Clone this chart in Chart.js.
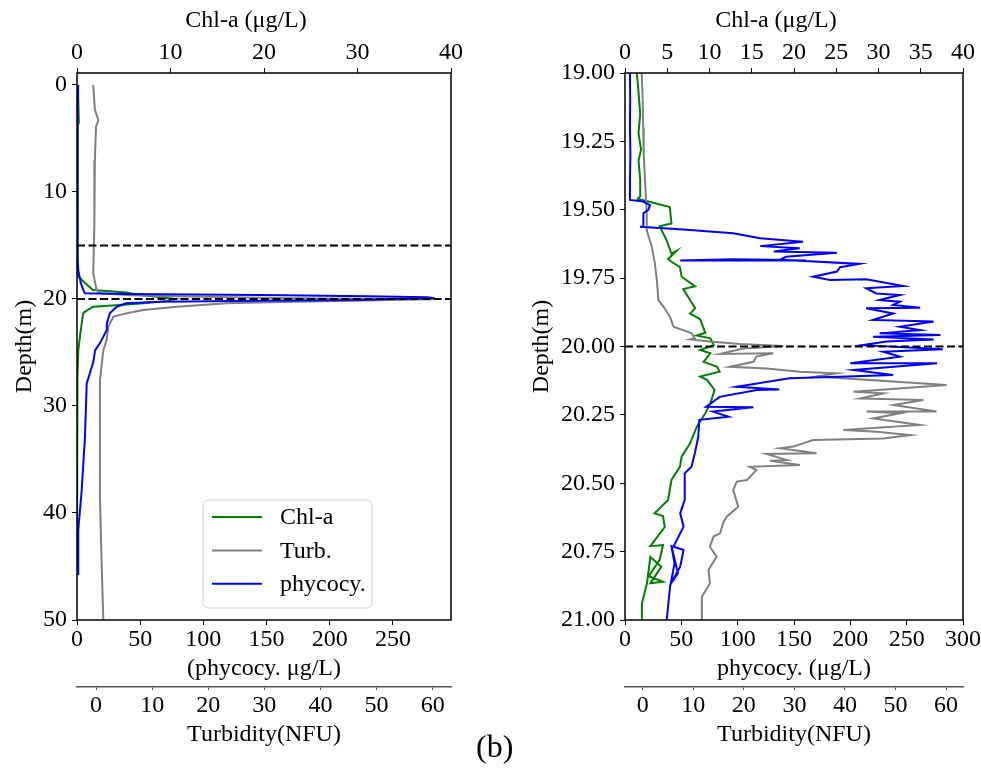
<!DOCTYPE html>
<html>
<head>
<meta charset="utf-8">
<script src="https://cdn.jsdelivr.net/npm/chart.js@4.4.1/dist/chart.umd.min.js"></script>
<style>
  html, body { margin: 0; padding: 0; background: #fff; }
  body { width: 981px; height: 773px; position: relative; overflow: hidden; }
  #left { position: absolute; left: 0; top: 0; }
  #right { position: absolute; left: 490px; top: 0; }
  #panel { position: absolute; left: 476px; top: 730px; font: 32px/32px "Liberation Serif", "Times New Roman", serif; color: #000; }
</style>
</head>
<body>
<canvas id="left" width="490" height="773"></canvas>
<canvas id="right" width="491" height="773"></canvas>
<div id="panel">(b)</div>
<script>
// ---- left panel: whole profile 0-50 m ----
const lChlDepth = [0, 3.5, 3.8, 5, 10, 17, 17.9, 18.5, 19.16, 19.4, 19.6, 19.8, 20.0, 20.2, 20.4, 20.56, 20.72, 21.3, 22.3, 23.5, 24.8, 27, 35, 45];
const lChlVal   = [0.1, 0.2, 0.05, 0.05, 0.05, 0.1, 0.14, 0.86, 1.7, 5.3, 6.5, 8.5, 10.5, 9.5, 7.1, 4.6, 1.7, 0.67, 0.5, 0.32, 0.14, 0.05, 0.0, 0.0];

const lTurbDepth = [0, 2.3, 3.3, 3.9, 7, 13.2, 17.6, 19.16, 19.47, 19.63, 19.72, 19.93, 20.03, 20.25, 20.4, 20.72, 21.03, 21.34, 21.65, 22.6, 23.8, 24.8, 27.6, 32.2, 38.5, 44.7, 50];
const lTurbVal   = [-0.5, -0.2, 0.4, 0.0, -0.2, -0.3, -0.5, 0.1, 0.7, 5.5, 11.4, 35.1, 60, 35.1, 23.3, 14.4, 8.4, 5.5, 3.1, 2.2, 1.9, 1.3, 0.7, 0.7, 0.7, 1.0, 1.3];

const lPhyDepth = [0, 2, 10, 16, 17.3, 18.5, 19.16, 19.47, 19.53, 19.63, 19.75, 19.84, 19.93, 20.0, 20.09, 20.16, 20.25, 20.4, 20.72, 21.34, 22.3, 22.9, 24.1, 24.8, 25.9, 26.9, 27.9, 32.9, 37.9, 41.6, 45.8];
const lPhyVal   = [1.0, 0.5, 0.3, 0.5, 1.0, 3, 5, 6.3, 39, 145, 230, 277, 283, 250, 225, 145, 66, 39, 31.5, 26, 23.6, 23.6, 18.3, 14.3, 12.9, 10.3, 7.7, 6.3, 3.7, 1.0, 1.0];

const lRefDepths = [15, 20];

// ---- right panel: zoom 19-21 m ----
const rChlDepth = [19.00, 19.07, 19.15, 19.22, 19.28, 19.32, 19.39, 19.45, 19.46, 19.49, 19.55, 19.56, 19.61, 19.66, 19.65, 19.68, 19.69, 19.71, 19.745, 19.78, 19.79, 19.83, 19.86, 19.88, 19.90, 19.95, 19.96, 19.97, 19.995, 20.013, 20.025, 20.056, 20.074, 20.092, 20.11, 20.122, 20.159, 20.208, 20.244, 20.293, 20.354, 20.403, 20.44, 20.488, 20.561, 20.61, 20.62, 20.66, 20.73, 20.726, 20.78, 20.84, 20.86, 20.866, 20.805, 20.77, 20.866, 20.94, 21.0];
const rChlVal   = [1.4, 1.6, 1.8, 1.6, 1.9, 1.6, 1.8, 1.8, 1.5, 5.3, 5.5, 4.1, 4.9, 5.5, 6.1, 5.1, 5.5, 6.5, 6.7, 8.3, 6.9, 7.7, 8.3, 7.7, 8.9, 9.5, 8.5, 10.1, 10.5, 8.9, 10.1, 9.3, 10.9, 11.2, 8.9, 9.7, 10.6, 10.1, 9.5, 8.5, 7.7, 6.7, 6.5, 5.5, 5.1, 3.5, 4.5, 4.7, 3.0, 4.5, 4.1, 2.8, 4.5, 3.0, 4.3, 3.0, 2.6, 2.0, 2.0];

const rTurbDepth = [19.00, 19.10, 19.20, 19.30, 19.391, 19.513, 19.574, 19.611, 19.635, 19.696, 19.757, 19.83, 19.854, 19.891, 19.928, 19.952, 19.97, 19.974, 19.982, 19.991, 19.998, 20.007, 20.027, 20.025, 20.037, 20.056, 20.074, 20.08, 20.092, 20.098, 20.11, 20.141, 20.165, 20.171, 20.19, 20.196, 20.214, 20.238, 20.238, 20.244, 20.263, 20.287, 20.305, 20.312, 20.324, 20.336, 20.342, 20.366, 20.372, 20.39, 20.393, 20.415, 20.418, 20.433, 20.44, 20.452, 20.488, 20.494, 20.525, 20.586, 20.622, 20.646, 20.683, 20.695, 20.732, 20.769, 20.817, 20.866, 20.915, 21.0];
const rTurbVal   = [-0.2, 0.0, 0.1, 0.2, 0.45, 0.8, 0.8, 1.4, 1.8, 2.4, 2.8, 3.1, 4.1, 5.4, 6.1, 9.7, 10.3, 9.4, 13.3, 19.2, 27.8, 19.9, 15.3, 25.8, 22.5, 21.9, 17.3, 24.5, 31.1, 38.4, 34.4, 60.1, 41.7, 47.6, 43, 55.5, 49.6, 58.1, 44.3, 50.9, 45.6, 54.8, 39.7, 46.3, 52.9, 47.6, 33.7, 29.8, 27.2, 34.4, 24.5, 28.5, 25.2, 31.1, 21.2, 22.5, 20.6, 18.6, 17.9, 18.9, 16.6, 15.9, 15.3, 14.0, 13.3, 14.6, 13.0, 13.3, 11.7, 11.7];

const rPhyDepth = [19.00, 19.10, 19.20, 19.30, 19.39, 19.464, 19.47, 19.483, 19.50, 19.513, 19.562, 19.562, 19.572, 19.586, 19.604, 19.617, 19.633, 19.641, 19.653, 19.657, 19.672, 19.684, 19.686, 19.686, 19.681, 19.684, 19.698, 19.71, 19.726, 19.745, 19.757, 19.754, 19.779, 19.787, 19.806, 19.812, 19.83, 19.836, 19.848, 19.858, 19.86, 19.879, 19.903, 19.909, 19.928, 19.94, 19.952, 19.958, 19.964, 19.974, 19.982, 19.995, 20.01, 20.019, 20.037, 20.061, 20.061, 20.086, 20.104, 20.11, 20.116, 20.147, 20.157, 20.159, 20.184, 20.22, 20.222, 20.238, 20.257, 20.268, 20.33, 20.39, 20.44, 20.464, 20.561, 20.61, 20.659, 20.732, 20.744, 20.805, 20.872, 20.829, 20.726, 20.793, 20.878, 21.0];
const rPhyVal   = [4.4, 4.6, 4.4, 4.8, 4.4, 4.4, 16.3, 22.2, 20.7, 16.3, 16.3, 13.3, 51.8, 96, 120, 158, 120, 155, 132, 188, 143, 137, 161, 49, 96, 143, 208, 191, 188, 167, 182, 214, 247, 214, 223, 244, 226, 244, 238, 262, 214, 238, 220, 274, 244, 262, 226, 280, 220, 274, 232, 211, 282, 229, 244, 200, 277, 203, 238, 197, 146, 99, 137, 117, 84, 72, 114, 78, 92, 66, 65, 62, 59, 53, 53, 49, 52, 43, 52, 49, 40, 47, 41, 44, 40, 37];

const rRefDepths = [20];

// axis ranges and tick labels
const lDepthRange = [-1.12, 50];
const lDepthTicks = [0, 10, 20, 30, 40, 50];
const lChlRange = [0, 40];
const lChlTicks = [0, 10, 20, 30, 40];
const lPhyRange = [0, 296];
const lPhyTicks = [0, 50, 100, 150, 200, 250];
const lTurbRange = [-3.39, 63.27];
const turbTicks = [0, 10, 20, 30, 40, 50, 60];

const rDepthRange = [19, 21];
const rDepthTicks = [19, 19.25, 19.5, 19.75, 20, 20.25, 20.5, 20.75, 21];
const rChlRange = [0, 40];
const rChlTicks = [0, 5, 10, 15, 20, 25, 30, 35, 40];
const rPhyRange = [0, 300];
const rPhyTicks = [0, 50, 100, 150, 200, 250, 300];
const rTurbRange = [-3.5, 63.35];

const serif = "'Liberation Serif', 'Times New Roman', serif";
const ink = "#000";
const font = { family: serif, size: 24 };

function pts(depths, vals) {
  return depths.map((d, i) => ({ x: vals[i], y: d }));
}

function hline(depth, range) {
  return [{ x: range[0], y: depth }, { x: range[1], y: depth }];
}

function xScale(o) {
  return {
    type: "linear",
    position: o.position,
    weight: o.weight,
    bounds: "data",
    min: o.range[0],
    max: o.range[1],
    afterBuildTicks: s => { s.ticks = o.ticks.map(v => ({ value: v })); },
    ticks: { color: ink, font, padding: o.tickPad, maxRotation: 0, autoSkip: false, callback: v => String(v) },
    grid: { drawOnChartArea: false, tickLength: o.tickLen, color: o.tickColor || "#000", lineWidth: 1 },
    border: { display: !!o.borderColor, color: o.borderColor, width: 1.5 },
    title: { display: true, text: o.title, color: ink, font, padding: o.titlePad },
    afterFit: s => { s.height = o.size; }
  };
}

function yScale(o) {
  return {
    type: "linear",
    position: "left",
    reverse: true,
    bounds: "data",
    min: o.range[0],
    max: o.range[1],
    afterBuildTicks: s => { s.ticks = o.ticks.map(v => ({ value: v })); },
    ticks: { color: ink, font, padding: 5, autoSkip: false, callback: o.fmt },
    grid: { drawOnChartArea: false, tickLength: 5, color: "#000", lineWidth: 1 },
    border: { display: false },
    title: { display: true, text: "Depth(m)", color: ink, font, padding: { top: o.titlePad, bottom: 0 } },
    afterFit: s => { s.width = o.size; }
  };
}

function series(label, data, color, axis, order) {
  return {
    label, data, borderColor: color, backgroundColor: color, xAxisID: axis, yAxisID: "y",
    showLine: true, pointRadius: 0, borderWidth: 2, tension: 0, order, inLegend: true
  };
}

function refLines(depths, range) {
  return depths.map(d => ({
    label: "", data: hline(d, range), borderColor: "#000", xAxisID: "xChl", yAxisID: "y",
    showLine: true, pointRadius: 0, borderWidth: 1.8, borderDash: [8, 3.5], order: -1
  }));
}

// black box round the plot, drawn over the curves like matplotlib spines
const framePlugin = {
  id: "frame",
  afterDatasetsDraw(chart) {
    const { ctx, chartArea: a } = chart;
    ctx.save();
    ctx.strokeStyle = "#000";
    ctx.lineWidth = 1.5;
    ctx.strokeRect(a.left, a.top, a.right - a.left, a.bottom - a.top);
    ctx.restore();
  }
};

// legend inside the plot, lower right
const boxLegend = {
  id: "boxLegend",
  afterDraw(chart, args, opts) {
    if (!opts.show) return;
    const { ctx, chartArea: a } = chart;
    const items = chart.data.datasets.filter(ds => ds.inLegend);
    const w = opts.width, h = opts.rowH * items.length + 8;
    const x = a.right - opts.right - w, y = a.bottom - opts.bottom - h;
    ctx.save();
    ctx.beginPath();
    ctx.roundRect(x, y, w, h, 5);
    ctx.fillStyle = "rgba(255,255,255,0.8)";
    ctx.fill();
    ctx.strokeStyle = "#d0d0d0";
    ctx.lineWidth = 1;
    ctx.stroke();
    ctx.font = "24px " + serif;
    ctx.textBaseline = "middle";
    items.forEach((ds, i) => {
      const cy = y + 17 + i * opts.rowH;
      ctx.strokeStyle = ds.borderColor;
      ctx.lineWidth = 2;
      ctx.beginPath();
      ctx.moveTo(x + 9, cy);
      ctx.lineTo(x + 59, cy);
      ctx.stroke();
      ctx.fillStyle = ink;
      ctx.fillText(ds.label, x + 77, cy + 1);
    });
    ctx.restore();
  }
};

function makeChart(id, cfg) {
  return new Chart(document.getElementById(id), {
    type: "scatter",
    data: {
      datasets: [
        series("Chl-a", pts(cfg.chl[0], cfg.chl[1]), "#008000", "xChl", 2),
        series("Turb.", pts(cfg.turb[0], cfg.turb[1]), "#808080", "xTurb", 1),
        series("phycocy.", pts(cfg.phy[0], cfg.phy[1]), "#0000ff", "xPhy", 0),
        ...refLines(cfg.refs, cfg.chlRange)
      ]
    },
    options: {
      responsive: false,
      animation: false,
      devicePixelRatio: 1,
      layout: { padding: { left: 0, right: cfg.padRight, top: 0, bottom: 0 } },
      plugins: {
        legend: { display: false },
        tooltip: { enabled: false },
        boxLegend: { show: cfg.legend, width: 169, rowH: 33.3, right: 79, bottom: 12 }
      },
      scales: {
        y: yScale({ range: cfg.depthRange, ticks: cfg.depthTicks, fmt: cfg.depthFmt, size: cfg.yWidth, titlePad: cfg.yTitlePad }),
        xChl: xScale({ position: "top", weight: 0, range: cfg.chlRange, ticks: cfg.chlTicks, tickPad: 1, tickLen: 5, title: "Chl-a (μg/L)      ", titlePad: { top: 6, bottom: 0 }, size: 73 }),
        xPhy: xScale({ position: "bottom", weight: 0, range: cfg.phyRange, ticks: cfg.phyTicks, tickPad: 0, tickLen: 5, title: cfg.phyTitle, titlePad: { top: 0, bottom: 4 }, size: 67 }),
        xTurb: xScale({ position: "bottom", weight: 1, range: cfg.turbRange, ticks: turbTicks, tickPad: 1, tickLen: 3, tickColor: "#555", borderColor: "#555", title: "Turbidity(NFU)", titlePad: { top: 0, bottom: 24 }, size: 86 })
      }
    },
    plugins: [framePlugin, boxLegend]
  });
}

makeChart("left", {
  chl: [lChlDepth, lChlVal], turb: [lTurbDepth, lTurbVal], phy: [lPhyDepth, lPhyVal],
  refs: lRefDepths, depthRange: lDepthRange, depthTicks: lDepthTicks, depthFmt: v => String(v),
  chlRange: lChlRange, chlTicks: lChlTicks, phyRange: lPhyRange, phyTicks: lPhyTicks, turbRange: lTurbRange,
  phyTitle: "(phycocy. μg/L)", yWidth: 77, yTitlePad: 10, padRight: 39, legend: true
});

makeChart("right", {
  chl: [rChlDepth, rChlVal], turb: [rTurbDepth, rTurbVal], phy: [rPhyDepth, rPhyVal],
  refs: rRefDepths, depthRange: rDepthRange, depthTicks: rDepthTicks, depthFmt: v => v.toFixed(2),
  chlRange: rChlRange, chlTicks: rChlTicks, phyRange: rPhyRange, phyTicks: rPhyTicks, turbRange: rTurbRange,
  phyTitle: "phycocy. (μg/L)", yWidth: 135, yTitlePad: 37, padRight: 18, legend: false
});
</script>
</body>
</html>
